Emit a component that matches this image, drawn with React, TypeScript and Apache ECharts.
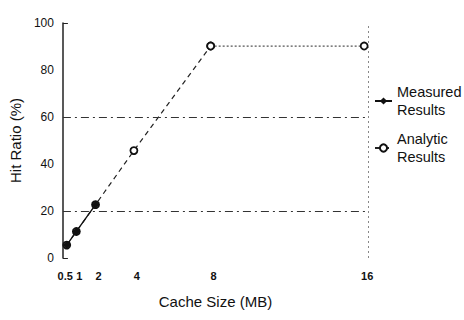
import React, { useEffect, useRef } from "react";
import * as echarts from "echarts";

const cacheSizes = [0.5, 1, 2, 4, 8, 16];
const xTickLabels = [1, 2, 4, 8, 16];
const xFirstTickLabel = [0.5];
const measuredSizes = [0.5, 1, 2];
const measuredHit = [5.5, 11.3, 22.7];
const analyticSizes = [0.5, 1, 2, 4, 8];
const analyticHit = [5.5, 11.3, 22.7, 45.7, 90.2];
const plateauSizes = [8, 16];
const plateauHit = [90.2, 90.2];
const gridLineValues = [20, 60];

const FONT = "Liberation Sans, Arial, Helvetica, sans-serif";

export default function App() {
  const ref = useRef<HTMLDivElement>(null);
  useEffect(() => {
    if (!ref.current) return;
    const chart = echarts.init(ref.current, null, { renderer: "svg" });
    const pair = (xs: number[], ys: number[]) => xs.map((x, i) => [x, ys[i]]);
    const legendText = {
      fontFamily: FONT,
      fontSize: 14.5,
      color: "#111",
      lineHeight: 18,
      padding: [18, 0, 0, 0],
    };
    const legendBase = {
      orient: "vertical",
      left: 374,
      padding: 0,
      itemWidth: 17,
      itemHeight: 9,
      formatter: (n: string) => n.replace(" ", "\n"),
      textStyle: legendText,
      selectedMode: false,
    };
    const xLabelBase = {
      showMinLabel: true,
      hideOverlap: false,
      fontFamily: FONT,
      fontSize: 11,
      fontWeight: "bold",
      color: "#111",
      margin: 12,
    };
    const xAxisBase = {
      type: "value",
      min: 0.3,
      max: 16.2,
      position: "bottom",
      axisLine: { show: false },
      axisTick: { show: false },
      splitLine: { show: false },
    };
    chart.setOption({
      animation: false,
      backgroundColor: "#fff",
      textStyle: { fontFamily: FONT },
      grid: { left: 62, top: 23, width: 306, height: 235 },
      legend: [
        { ...legendBase, data: ["Measured Results"], top: 74 },
        { ...legendBase, data: ["Analytic Results"], top: 121 },
      ],
      xAxis: [
        {
          ...xAxisBase,
          name: "Cache Size (MB)",
          nameLocation: "middle",
          nameGap: 36,
          nameTextStyle: { fontFamily: FONT, fontSize: 15, color: "#111" },
          axisLabel: {
            ...xLabelBase,
            customValues: xTickLabels,
            padding: [0, 0, 0, 6],
          },
        },
        {
          ...xAxisBase,
          axisLabel: {
            ...xLabelBase,
            customValues: xFirstTickLabel,
            padding: [0, 3, 0, 0],
          },
        },
      ],
      yAxis: {
        type: "value",
        min: 0,
        max: 100,
        interval: 20,
        name: "Hit Ratio (%)",
        nameLocation: "middle",
        nameGap: 29,
        nameTextStyle: { fontFamily: FONT, fontSize: 15, color: "#111" },
        axisLine: { show: true, lineStyle: { color: "#222", width: 1.5 } },
        axisTick: {
          show: true,
          inside: true,
          length: 5,
          customValues: [0, 100],
          lineStyle: { color: "#222" },
        },
        splitLine: { show: false },
        axisLabel: {
          fontFamily: FONT,
          fontSize: 12,
          color: "#111",
          margin: 9,
        },
      },
      series: [
        {
          name: "Analytic Results",
          type: "line",
          data: pair(analyticSizes, analyticHit),
          symbol: "circle",
          symbolSize: 7,
          lineStyle: { color: "#222", width: 1.2, type: [5, 4] },
          itemStyle: { color: "#fff", borderColor: "#111", borderWidth: 1.8 },
          z: 3,
        },
        {
          name: "Analytic Results",
          type: "line",
          data: pair(plateauSizes, plateauHit),
          symbol: "circle",
          symbolSize: 7,
          lineStyle: { color: "#555", width: 1.2, type: [2, 2] },
          itemStyle: { color: "#fff", borderColor: "#111", borderWidth: 1.8 },
          z: 3,
        },
        {
          name: "Measured Results",
          type: "line",
          data: pair(measuredSizes, measuredHit),
          symbol: "diamond",
          symbolSize: 8,
          lineStyle: { color: "#111", width: 1.4, type: "solid" },
          itemStyle: { color: "#111" },
          z: 4,
          markLine: {
            silent: true,
            symbol: "none",
            label: { show: false },
            lineStyle: { color: "#333", width: 1, type: [8, 4, 2, 4] },
            data: [
              ...gridLineValues.map((v) => ({ yAxis: v })),
              { xAxis: 16.2, lineStyle: { color: "#888", type: [2, 3], width: 1 } },
            ],
          },
        },
      ],
    });
    return () => chart.dispose();
  }, []);
  return (
    <div
      ref={ref}
      style={{ position: "fixed", left: 0, top: 0, width: 464, height: 320 }}
    />
  );
}
